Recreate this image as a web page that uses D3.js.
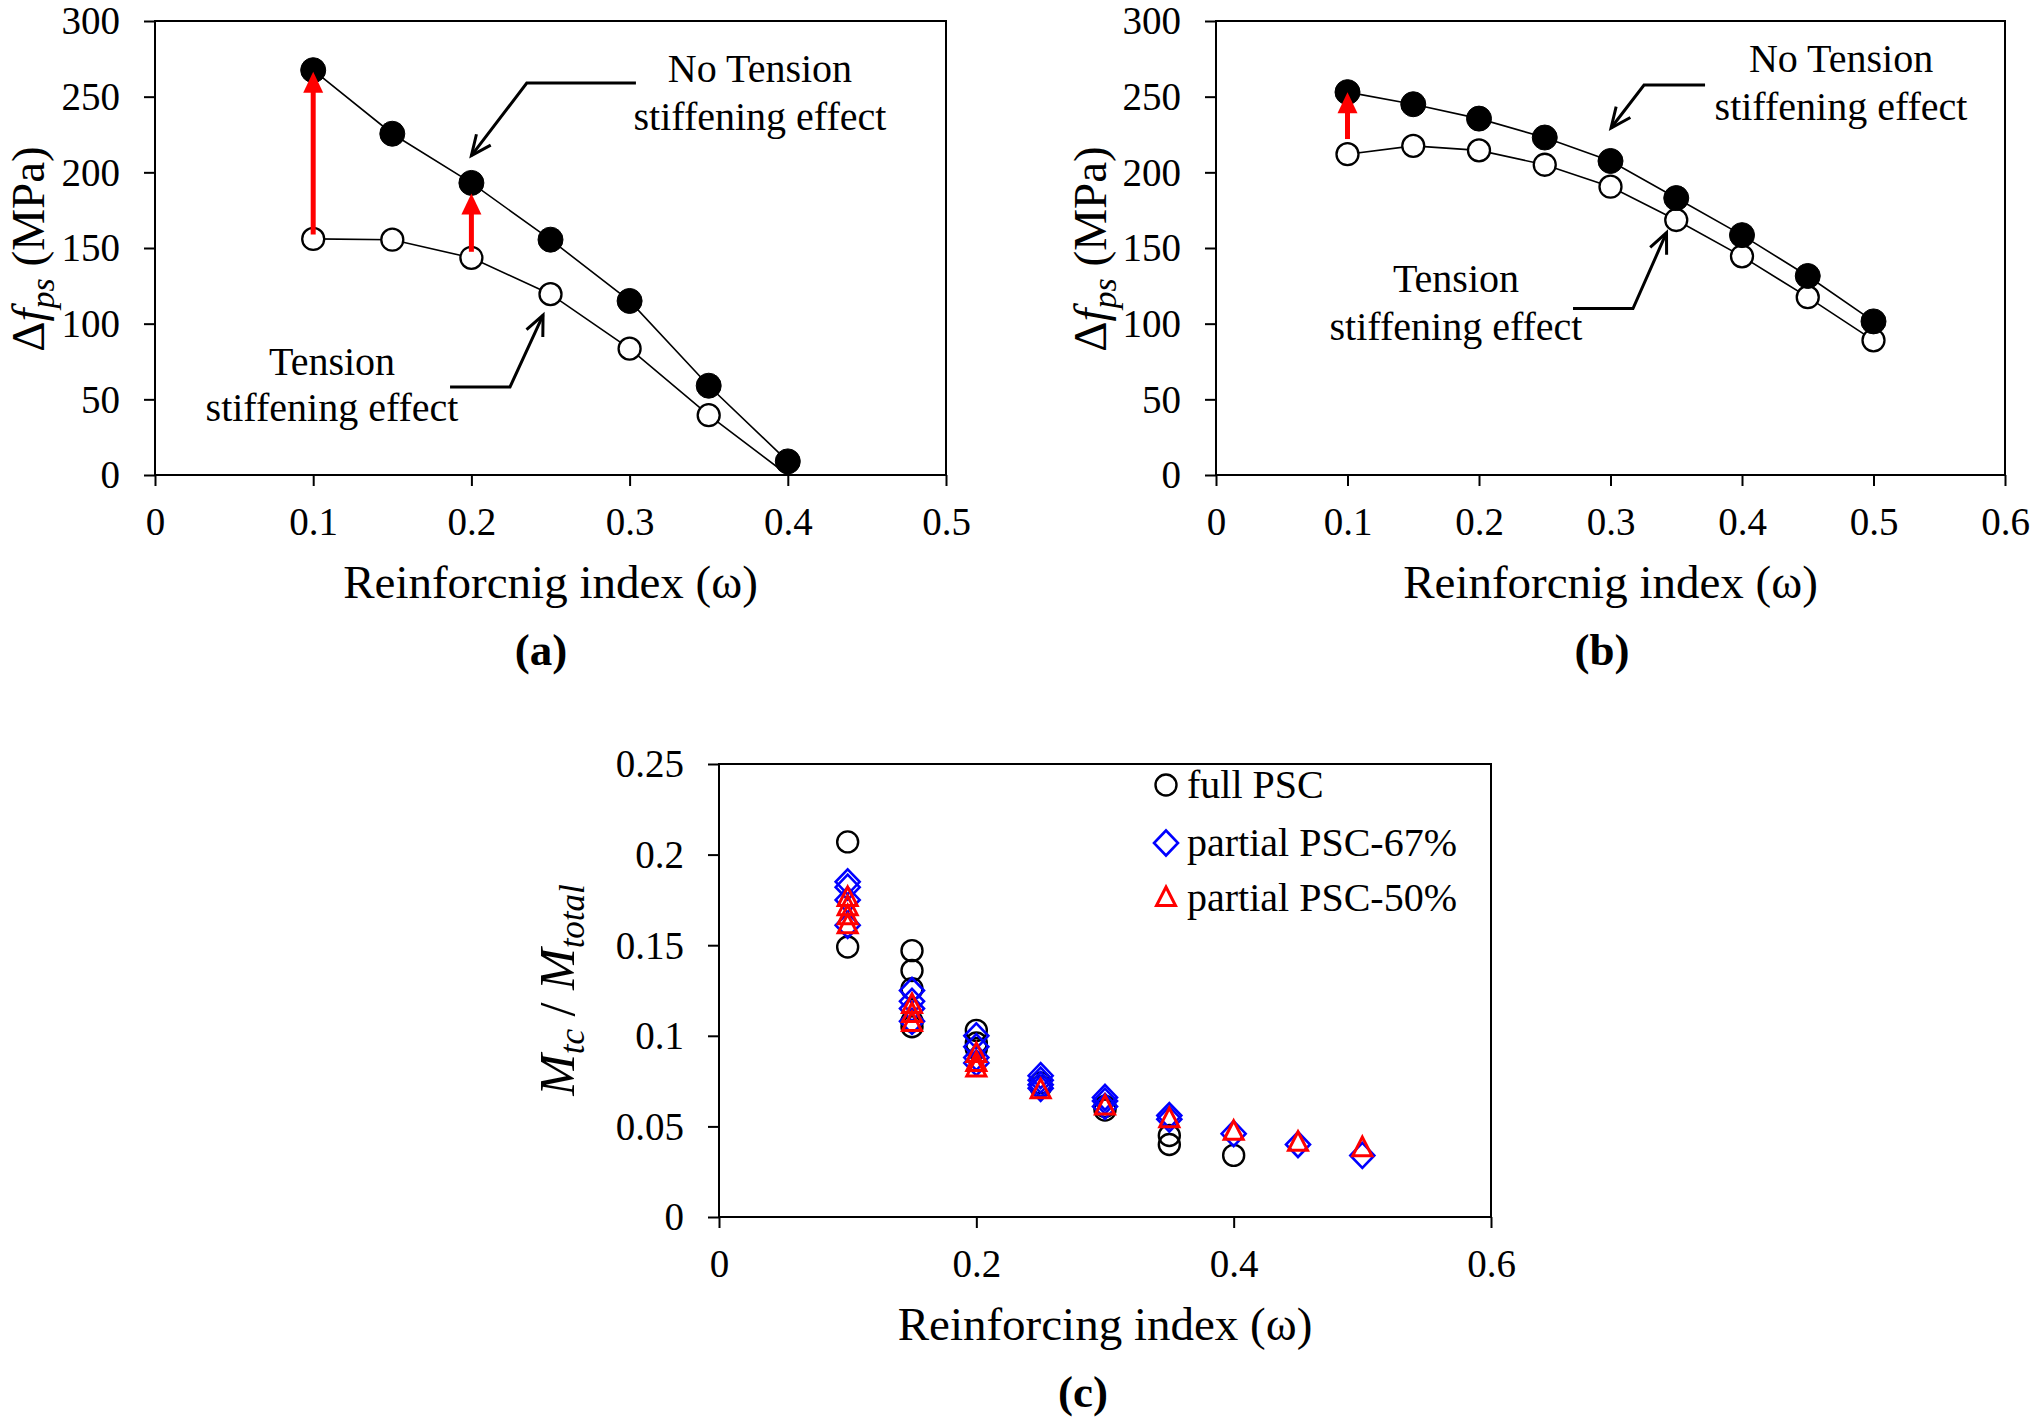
<!DOCTYPE html>
<html><head><meta charset="utf-8">
<script src="https://cdn.jsdelivr.net/npm/d3@7"></script>
<style>
body{margin:0;background:#fff;}
svg{display:block;}
text{font-family:"Liberation Serif","Times New Roman",serif;fill:#000;}
</style>
</head><body>
<svg id="chart" width="2031" height="1424"></svg>
<script>
// ---------------- DATA ----------------
// Panel (a)
const omegaA = [0.1, 0.15, 0.2, 0.25, 0.3, 0.35, 0.4];
const noTensionA = [267.5, 225.5, 193, 155.5, 115, 59, 9];
const tensionA = [156, 155.5, 143.5, 119.5, 83.5, 39.5, 0];
const xTicksA = [0, 0.1, 0.2, 0.3, 0.4, 0.5];
const xTickLabelsA = ["0", "0.1", "0.2", "0.3", "0.4", "0.5"];
const yTicksAB = [0, 50, 100, 150, 200, 250, 300];
const yTickLabelsAB = ["0", "50", "100", "150", "200", "250", "300"];
const redArrowsA = [{x: 0.1, from: 159, to: 266.5}, {x: 0.2, from: 147.5, to: 186}];
const noTensionArrowA = [[0.304, 259], [0.235, 259], [0.2, 211]];
const tensionArrowA = [[0.1865, 58.2], [0.2244, 58.2], [0.2453, 105.7]];
const notesA = [
  {text: "No Tension", x: 0.3824, y: 259.7},
  {text: "stiffening effect", x: 0.3824, y: 228},
  {text: "Tension", x: 0.1119, y: 66},
  {text: "stiffening effect", x: 0.1119, y: 35.7}
];

// Panel (b)
const omegaB = [0.1, 0.15, 0.2, 0.25, 0.3, 0.35, 0.4, 0.45, 0.5];
const noTensionB = [253, 245, 235.5, 223, 207.5, 183, 158.5, 131.5, 101.5];
const tensionB = [212, 217.5, 214.5, 205, 190.5, 168.5, 144.5, 117.5, 89];
const xTicksB = [0, 0.1, 0.2, 0.3, 0.4, 0.5, 0.6];
const xTickLabelsB = ["0", "0.1", "0.2", "0.3", "0.4", "0.5", "0.6"];
const redArrowsB = [{x: 0.1, from: 222, to: 253}];
const noTensionArrowB = [[0.3719, 257.7], [0.3255, 257.7], [0.3004, 229.3]];
const tensionArrowB = [[0.2715, 110], [0.3171, 110], [0.3426, 160.1]];
const notesB = [
  {text: "No Tension", x: 0.4753, y: 266.3},
  {text: "stiffening effect", x: 0.4753, y: 234.6},
  {text: "Tension", x: 0.1825, y: 120.6},
  {text: "stiffening effect", x: 0.1825, y: 89.2}
];

// Panel (c)
const omegaC = [0.1, 0.15, 0.2, 0.25, 0.3, 0.35, 0.4, 0.45, 0.5];
const fullPSC = [
  [0.207, 0.149],
  [0.147, 0.136, 0.126, 0.108, 0.105],
  [0.103, 0.096, 0.093],
  [0.074, 0.072],
  [0.061, 0.059],
  [0.045, 0.040],
  [0.034],
  [],
  []
];
const partial67 = [
  [0.185, 0.182, 0.175, 0.161],
  [0.125, 0.119, 0.115, 0.108],
  [0.100, 0.094, 0.088, 0.085],
  [0.078, 0.0755, 0.073, 0.071],
  [0.066, 0.064, 0.061],
  [0.056, 0.054],
  [0.046],
  [0.040],
  [0.034]
];
const partial50 = [
  [0.176, 0.171, 0.166, 0.161],
  [0.117, 0.112, 0.107],
  [0.090, 0.085, 0.082],
  [0.070],
  [0.061],
  [0.054],
  [0.047],
  [0.041],
  [0.038]
];
const xTicksC = [0, 0.2, 0.4, 0.6];
const xTickLabelsC = ["0", "0.2", "0.4", "0.6"];
const yTicksC = [0, 0.05, 0.1, 0.15, 0.2, 0.25];
const yTickLabelsC = ["0", "0.05", "0.1", "0.15", "0.2", "0.25"];
const legendC = ["full PSC", "partial PSC-67%", "partial PSC-50%"];

// ---------------- DRAWING ----------------
const svg = d3.select("#chart");
const FONT = '"Liberation Serif","Times New Roman",serif';
const TICK_FS = 39, TITLE_FS = 47, NOTE_FS = 40;

function panel(cfg) {
  const g = svg.append("g");
  const x = d3.scaleLinear().domain(cfg.xDomain).range([cfg.left, cfg.right]);
  const y = d3.scaleLinear().domain(cfg.yDomain).range([cfg.bottom, cfg.top]);

  const gx = g.append("g").attr("transform", `translate(0,${cfg.bottom})`)
    .call(d3.axisBottom(x).tickValues(cfg.xTicks).tickFormat((d, i) => cfg.xTickLabels[i]).tickSize(11).tickSizeOuter(0));
  gx.select(".domain").remove();
  gx.selectAll(".tick line").attr("stroke", "#000").attr("stroke-width", 2);
  gx.selectAll(".tick text").attr("y", 60).attr("dy", null)
    .style("font-size", TICK_FS + "px").style("font-family", FONT).attr("fill", "#000");

  const gy = g.append("g").attr("transform", `translate(${cfg.left},0)`)
    .call(d3.axisLeft(y).tickValues(cfg.yTicks).tickFormat((d, i) => cfg.yTickLabels[i]).tickSize(11).tickSizeOuter(0));
  gy.select(".domain").remove();
  gy.selectAll(".tick line").attr("stroke", "#000").attr("stroke-width", 2);
  gy.selectAll(".tick text").attr("x", -35).attr("dy", "0.33em")
    .style("font-size", TICK_FS + "px").style("font-family", FONT).attr("fill", "#000");

  g.append("rect").attr("x", cfg.left).attr("y", cfg.top)
    .attr("width", cfg.right - cfg.left).attr("height", cfg.bottom - cfg.top)
    .attr("fill", "none").attr("stroke", "#000").attr("stroke-width", 2);

  g.append("text").attr("x", (cfg.left + cfg.right) / 2).attr("y", cfg.bottom + 123)
    .attr("text-anchor", "middle").style("font-size", TITLE_FS + "px").text(cfg.xTitle);
  g.append("text").attr("x", cfg.labelX).attr("y", cfg.bottom + 190)
    .attr("text-anchor", "middle").style("font-size", "45px").style("font-weight", "bold").text(cfg.label);
  return {g, x, y};
}

function lineSeries(p, xs, ys, filled) {
  const pts = xs.map((d, i) => [d, ys[i]]);
  p.g.append("path").attr("d", d3.line().x(d => p.x(d[0])).y(d => p.y(d[1]))(pts))
    .attr("fill", "none").attr("stroke", "#000").attr("stroke-width", 1.6);
  p.g.selectAll(null).data(pts.filter(d => d[1] > 0)).join("circle")
    .attr("cx", d => p.x(d[0])).attr("cy", d => p.y(d[1]))
    .attr("r", filled ? 12.5 : 11)
    .attr("fill", filled ? "#000" : "#fff")
    .attr("stroke", "#000").attr("stroke-width", filled ? 1 : 2.3);
}

function redArrows(p, arr) {
  arr.forEach(a => {
    const X = p.x(a.x), y0 = p.y(a.from), y1 = p.y(a.to);
    const headL = 21, headW = 10;
    p.g.append("line").attr("x1", X).attr("x2", X).attr("y1", y0).attr("y2", y1 + headL - 2)
      .attr("stroke", "#ff0000").attr("stroke-width", 5);
    p.g.append("path").attr("d", `M${X},${y1} L${X - headW},${y1 + headL} L${X + headW},${y1 + headL} Z`)
      .attr("fill", "#ff0000");
  });
}

function blackArrow(p, pts) {
  const q = pts.map(d => [p.x(d[0]), p.y(d[1])]);
  p.g.append("path").attr("d", d3.line()(q)).attr("fill", "none")
    .attr("stroke", "#000").attr("stroke-width", 3).attr("stroke-linejoin", "miter");
  const [x1, y1] = q[q.length - 2], [x2, y2] = q[q.length - 1];
  const ang = Math.atan2(y2 - y1, x2 - x1), L = 22, a = 0.42;
  const arms = [[x2 - L * Math.cos(ang - a), y2 - L * Math.sin(ang - a)], [x2, y2],
                [x2 - L * Math.cos(ang + a), y2 - L * Math.sin(ang + a)]];
  p.g.append("path").attr("d", d3.line()(arms)).attr("fill", "none")
    .attr("stroke", "#000").attr("stroke-width", 3).attr("stroke-linejoin", "miter");
}

function notes(p, arr) {
  p.g.selectAll(null).data(arr).join("text")
    .attr("x", d => p.x(d.x)).attr("y", d => p.y(d.y))
    .attr("text-anchor", "middle").style("font-size", NOTE_FS + "px").text(d => d.text);
}

function dfpsTitle(g, bx, cy) {
  const t = g.append("text").attr("transform", `translate(${bx},${cy}) rotate(-90)`)
    .attr("text-anchor", "middle").style("font-size", "47px");
  t.append("tspan").text("Δ");
  t.append("tspan").style("font-style", "italic").text("f");
  t.append("tspan").style("font-style", "italic").style("font-size", "34px").attr("dy", 10).text("ps");
  t.append("tspan").attr("dy", -10).text("\u00a0(MPa)");
}

// Panel (a)
const pa = panel({left: 155, right: 946, top: 21, bottom: 475, xDomain: [0, 0.5], yDomain: [0, 300],
  xTicks: xTicksA, xTickLabels: xTickLabelsA, yTicks: yTicksAB, yTickLabels: yTickLabelsAB,
  xTitle: "Reinforcnig index (ω)", label: "(a)", labelX: 541});
dfpsTitle(pa.g, 44, 249);
lineSeries(pa, omegaA, tensionA, false);
lineSeries(pa, omegaA, noTensionA, true);
redArrows(pa, redArrowsA);
blackArrow(pa, noTensionArrowA);
blackArrow(pa, tensionArrowA);
notes(pa, notesA);

// Panel (b)
const pb = panel({left: 1216, right: 2005, top: 21, bottom: 475, xDomain: [0, 0.6], yDomain: [0, 300],
  xTicks: xTicksB, xTickLabels: xTickLabelsB, yTicks: yTicksAB, yTickLabels: yTickLabelsAB,
  xTitle: "Reinforcnig index (ω)", label: "(b)", labelX: 1602});
dfpsTitle(pb.g, 1106, 249);
lineSeries(pb, omegaB, tensionB, false);
lineSeries(pb, omegaB, noTensionB, true);
redArrows(pb, redArrowsB);
blackArrow(pb, noTensionArrowB);
blackArrow(pb, tensionArrowB);
notes(pb, notesB);

// Panel (c)
const pc = panel({left: 719, right: 1491, top: 764, bottom: 1217, xDomain: [0, 0.6], yDomain: [0, 0.25],
  xTicks: xTicksC, xTickLabels: xTickLabelsC, yTicks: yTicksC, yTickLabels: yTickLabelsC,
  xTitle: "Reinforcing index (ω)", label: "(c)", labelX: 1083});

(function () {
  const t = pc.g.append("text").attr("transform", `translate(574,990) rotate(-90)`)
    .attr("text-anchor", "middle").style("font-size", "50px").style("font-style", "italic");
  t.append("tspan").text("M");
  t.append("tspan").style("font-size", "35px").attr("dy", 10).text("tc");
  t.append("tspan").attr("dy", -10).style("font-style", "normal").text(" / ");
  t.append("tspan").text("M");
  t.append("tspan").style("font-size", "35px").attr("dy", 10).text("total");
})();

const circleMk = (sel) => sel.append("circle").attr("r", 10.5).attr("fill", "none").attr("stroke", "#000").attr("stroke-width", 2.4);
const diamondMk = (sel) => sel.append("path").attr("d", "M0,-12.5 L12,0 L0,12.5 L-12,0 Z").attr("fill", "none").attr("stroke", "#0000ff").attr("stroke-width", 2.6);
const triangleMk = (sel) => sel.append("path").attr("d", "M0,-11 L9.5,7.5 L-9.5,7.5 Z").attr("fill", "none").attr("stroke", "#ff0000").attr("stroke-width", 3);

function scatter(p, xs, groups, mk) {
  const pts = [];
  groups.forEach((vals, i) => vals.forEach(v => pts.push([xs[i], v])));
  const gs = p.g.selectAll(null).data(pts).join("g")
    .attr("transform", d => `translate(${p.x(d[0])},${p.y(d[1])})`);
  mk(gs);
}
scatter(pc, omegaC, fullPSC, circleMk);
scatter(pc, omegaC, partial67, diamondMk);
scatter(pc, omegaC, partial50, triangleMk);

const legMk = [circleMk, diamondMk, triangleMk];
const legY = [785, 843, 898];
legendC.forEach((name, i) => {
  const lg = pc.g.append("g").attr("transform", `translate(1166,${legY[i]})`);
  legMk[i](lg);
  lg.append("text").attr("x", 21).attr("y", 13).style("font-size", "40px").text(name);
});
</script>
</body></html>
